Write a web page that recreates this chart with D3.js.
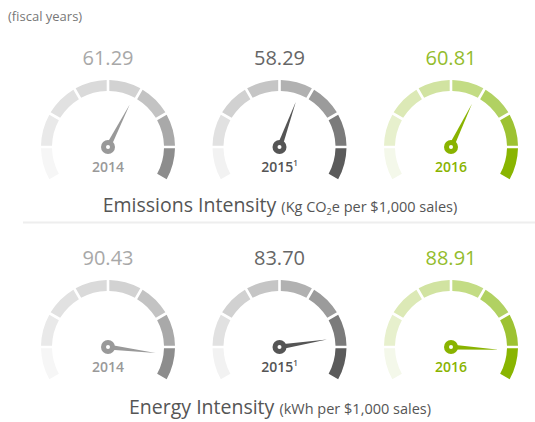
<!DOCTYPE html>
<html>
<head>
<meta charset="utf-8">
<script src="https://cdn.jsdelivr.net/npm/d3@7"></script>
<style>
  body { margin: 0; background: #fff; }
  text { font-family: "Open Sans", "Noto Sans", sans-serif; }
</style>
</head>
<body>
<script>
// chart data
const years = ["2014", "2015", "2016"];
const yearNotes = ["", "1", ""];
const emissions = [61.29, 58.29, 60.81];
const energy = [90.43, 83.70, 88.91];
const gaugeDomain = [0, 100];
const segmentCount = 8;

const w = 535;
const h = 422;

// colour themes per gauge (light -> dark segments)
const themes = [
    { segs: ["#f6f6f6", "#e9e9e9", "#e1e1e1", "#dadada", "#d2d2d2", "#c3c3c3", "#a9a9a9", "#8d8d8d"],
      needle: "#999999", value: "#a8a8a8", year: "#999999" },
    { segs: ["#f2f2f2", "#e1e1e1", "#d1d1d1", "#c5c5c5", "#b1b1b1", "#9b9b9b", "#7b7b7b", "#5b5b5b"],
      needle: "#555555", value: "#666666", year: "#555555" },
    { segs: ["#f4f8ea", "#e7f0cd", "#dce9b6", "#d1e3a1", "#c3dc84", "#b1d162", "#9dc232", "#89b500"],
      needle: "#89b300", value: "#93bc2c", year: "#89b300" }
];

const svg = d3.select("body")
    .append("svg")
    .attr("width", w)
    .attr("height", h);

const xScale = d3.scalePoint().domain(years).range([108, 451]);
const angle = d3.scaleLinear().domain(gaugeDomain).range([-120, 120]);
const rad = d => d * Math.PI / 180;

const arc = d3.arc().innerRadius(56).outerRadius(67).padAngle(0.03);

svg.append("text")
    .attr("x", 8)
    .attr("y", 21)
    .attr("font-size", 13)
    .attr("fill", "#777")
    .text("(fiscal years)");

function drawRow(values, cy) {
    const step = (gaugeDomain[1] - gaugeDomain[0]) / segmentCount;
    const bounds = d3.range(segmentCount).map(i => [gaugeDomain[0] + i * step, gaugeDomain[0] + (i + 1) * step]);

    years.forEach((yr, i) => {
        const t = themes[i];
        const g = svg.append("g")
            .attr("transform", "translate(" + xScale(yr) + "," + cy + ")");

        g.selectAll(".seg")
            .data(bounds)
            .enter()
            .append("path")
            .attr("class", "seg")
            .attr("d", d => arc({ startAngle: rad(angle(d[0])), endAngle: rad(angle(d[1])) }))
            .attr("fill", (d, j) => t.segs[j]);

        // needle
        g.append("path")
            .attr("d", "M0,-2.6 L48,0 L0,2.6 Z")
            .attr("fill", t.needle)
            .attr("transform", "rotate(" + (angle(values[i]) - 90) + ")");
        g.append("circle").attr("r", 7).attr("fill", t.needle);
        g.append("circle").attr("r", 2).attr("fill", "#fff");

        g.append("text")
            .attr("y", -82)
            .attr("text-anchor", "middle")
            .attr("font-size", 20)
            .attr("fill", t.value)
            .text(d3.format(".2f")(values[i]));

        const yl = g.append("text")
            .attr("y", 25)
            .attr("text-anchor", "middle")
            .attr("font-size", 14)
            .attr("font-weight", 600)
            .attr("fill", t.year)
            .text(yr);
        if (yearNotes[i]) {
            yl.append("tspan")
                .attr("font-size", 8)
                .attr("dy", -6)
                .text(yearNotes[i]);
        }
    });
}

drawRow(emissions, 147);
drawRow(energy, 347);

// titles
const t1 = svg.append("text")
    .attr("x", 280)
    .attr("y", 212)
    .attr("text-anchor", "middle")
    .attr("fill", "#555");
t1.append("tspan").attr("font-size", 19.5).text("Emissions Intensity ");
t1.append("tspan").attr("font-size", 14.5).text("(Kg CO");
t1.append("tspan").attr("font-size", 9).attr("dy", 3).text("2");
t1.append("tspan").attr("font-size", 14.5).attr("dy", -3).text("e per $1,000 sales)");

svg.append("line")
    .attr("x1", 23).attr("x2", w)
    .attr("y1", 222.5).attr("y2", 222.5)
    .attr("stroke", "#eeeeee")
    .attr("stroke-width", 2);

const t2 = svg.append("text")
    .attr("x", 280)
    .attr("y", 414)
    .attr("text-anchor", "middle")
    .attr("fill", "#555");
t2.append("tspan").attr("font-size", 19.5).text("Energy Intensity ");
t2.append("tspan").attr("font-size", 14.5).text("(kWh per $1,000 sales)");
</script>
</body>
</html>
